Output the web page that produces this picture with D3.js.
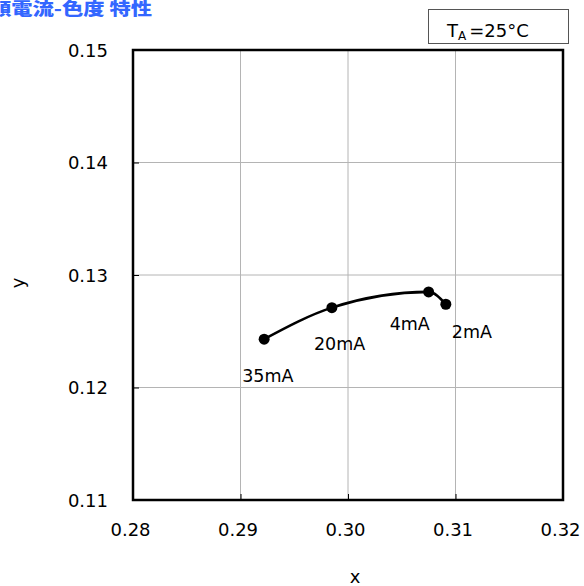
<!DOCTYPE html>
<html>
<head>
<meta charset="utf-8">
<script src="https://cdn.jsdelivr.net/npm/d3@7"></script>
<style>
  html, body { margin: 0; padding: 0; background: #fff; }
  svg { display: block; font-family: "DejaVu Sans", Verdana, sans-serif; }
</style>
</head>
<body>
<svg id="chart" width="584" height="586"></svg>
<script>
// Chromaticity (x, y) versus forward current
const currents = ["35mA", "20mA", "4mA", "2mA"];
const xValues = [0.2922, 0.2985, 0.3075, 0.3091];
const yValues = [0.1243, 0.1271, 0.1285, 0.1274];
const xTicks = [0.28, 0.29, 0.30, 0.31, 0.32];
const yTicks = [0.11, 0.12, 0.13, 0.14, 0.15];
const title = "順電流-色度 特性";

const svg = d3.select("#chart");
const plotL = 133, plotR = 563, plotT = 50, plotB = 500;

const x = d3.scaleLinear().domain([0.28, 0.32]).range([plotL, plotR]);
const y = d3.scaleLinear().domain([0.11, 0.15]).range([plotB, plotT]);

// Title
svg.append("text")
  .attr("x", -10).attr("y", 15)
  .attr("textLength", 162).attr("lengthAdjust", "spacingAndGlyphs")
  .attr("font-family", "'Noto Sans CJK JP', sans-serif")
  .attr("font-weight", 900).attr("font-size", 17)
  .attr("fill", "#3366ff")
  .text(title);

// Grid lines
svg.append("g").selectAll("line").data(xTicks.slice(1, -1)).join("line")
  .attr("x1", d => x(d)).attr("x2", d => x(d))
  .attr("y1", plotT).attr("y2", plotB)
  .attr("stroke", "#b4b4b4").attr("stroke-width", 1);
svg.append("g").selectAll("line").data(yTicks.slice(1, -1)).join("line")
  .attr("x1", plotL).attr("x2", plotR)
  .attr("y1", d => y(d)).attr("y2", d => y(d))
  .attr("stroke", "#b4b4b4").attr("stroke-width", 1);

// Axes with inward ticks
const xAxis = d3.axisBottom(x).tickValues(xTicks).tickSize(-6).tickPadding(20)
  .tickFormat(d3.format(".2f"));
const yAxis = d3.axisLeft(y).tickValues(yTicks).tickSize(-6).tickPadding(25)
  .tickFormat(d3.format(".2f"));

const gx = svg.append("g").attr("transform", `translate(0,${plotB})`).call(xAxis);
const gy = svg.append("g").attr("transform", `translate(${plotL},0)`).call(yAxis);
[gx, gy].forEach(g => {
  g.select(".domain").remove();
  g.selectAll(".tick line").attr("stroke", "#000").attr("stroke-width", 1);
  g.selectAll(".tick text").attr("font-size", 18).attr("fill", "#000")
    .attr("font-family", "'DejaVu Sans', Verdana, sans-serif");
});
gx.selectAll(".tick text").attr("dx", -3).attr("dy", "0.9em");
gy.selectAll(".tick text").attr("dy", "0.35em");

// Plot frame
svg.append("rect")
  .attr("x", plotL).attr("y", plotT)
  .attr("width", plotR - plotL).attr("height", plotB - plotT)
  .attr("fill", "none").attr("stroke", "#000").attr("stroke-width", 2.5);

// Axis titles
svg.append("text").attr("x", 355).attr("y", 583)
  .attr("text-anchor", "middle").attr("font-size", 18).text("x");
svg.append("text")
  .attr("transform", "translate(24,283) rotate(-90)")
  .attr("text-anchor", "middle").attr("font-size", 18).text("y");

// Curve and markers
const pts = currents.map((c, i) => ({ c, x: xValues[i], y: yValues[i] }));
const line = d3.line().x(d => x(d.x)).y(d => y(d.y)).curve(d3.curveMonotoneX);
svg.append("path").datum(pts)
  .attr("d", line).attr("fill", "none")
  .attr("stroke", "#000").attr("stroke-width", 2.6);
svg.append("g").selectAll("circle").data(pts).join("circle")
  .attr("cx", d => x(d.x)).attr("cy", d => y(d.y)).attr("r", 5.5)
  .attr("fill", "#000");

// Point labels
const labelOffset = { "35mA": [-22, 43], "20mA": [-18, 42], "4mA": [-39, 38], "2mA": [6, 34] };
svg.append("g").selectAll("text").data(pts).join("text")
  .attr("x", d => x(d.x) + labelOffset[d.c][0])
  .attr("y", d => y(d.y) + labelOffset[d.c][1])
  .attr("font-size", 17.5).attr("fill", "#000")
  .text(d => d.c);

// Ambient temperature box
const box = svg.append("g");
box.append("rect").attr("x", 428.5).attr("y", 9.5).attr("width", 140).attr("height", 34)
  .attr("fill", "#fff").attr("stroke", "#555").attr("stroke-width", 1);
const t = box.append("text").attr("x", 447).attr("y", 37).attr("font-size", 18);
t.append("tspan").text("T");
t.append("tspan").attr("font-size", 12).attr("dy", 3).text("A");
t.append("tspan").attr("dy", -3).attr("dx", 3).text("=25°C");
</script>
</body>
</html>
